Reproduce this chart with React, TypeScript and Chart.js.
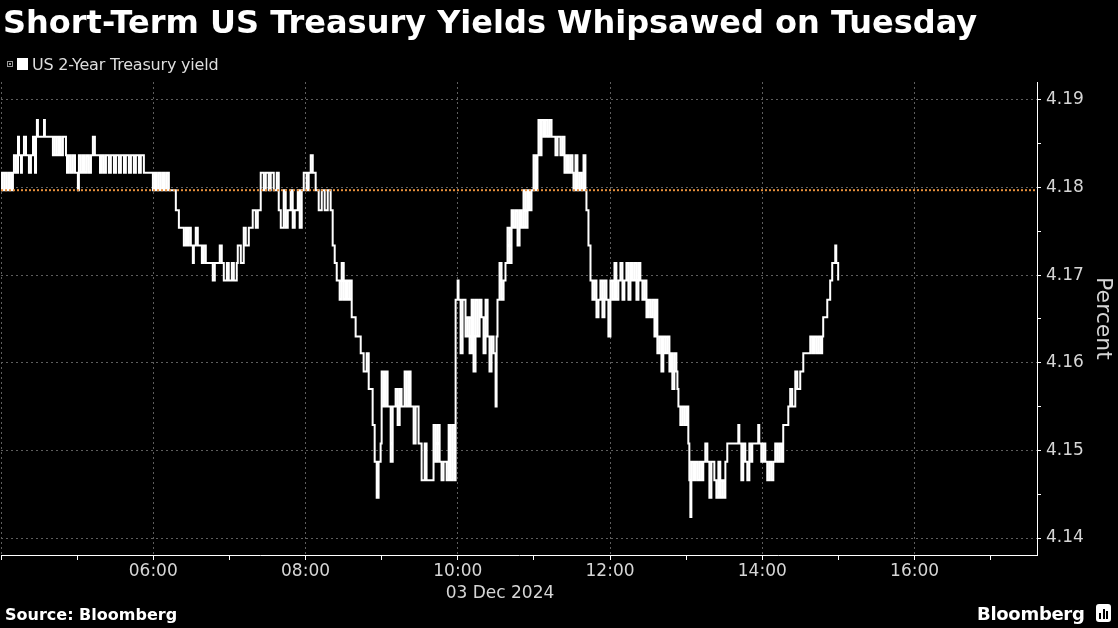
import React, { useEffect, useRef } from "react";
import { Chart, registerables } from "chart.js";

Chart.register(...registerables);

// ---------- texts ----------
const chartTitle = "Short-Term US Treasury Yields Whipsawed on Tuesday";
const seriesLabel = "US 2-Year Treasury yield";
const dateLabel = "03 Dec 2024";
const yAxisTitle = "Percent";
const sourceText = "Source: Bloomberg";
const brandText = "Bloomberg";

// ---------- axes ----------
const xStartHour = 4; // x values are minutes after 04:00
const xMinMinutes = 0;
const xMaxMinutes = 816.5; // ~17:36
const xTickMinutes = [0, 60, 120, 180, 240, 300, 360, 420, 480, 540, 600, 660, 720, 780];
const yMin = 4.13806;
const yMax = 4.19205;
const yTickValues = [4.14, 4.145, 4.15, 4.155, 4.16, 4.165, 4.17, 4.175, 4.18, 4.185, 4.19];

// previous close reference line
const previousClose = 4.1797;

// ---------- series: [minutes after 04:00, yield %] ----------
const yieldTicks: [number, number][] = [
  [0, 4.1797], [0.8, 4.1817], [2.4, 4.1797], [3.1, 4.1817], [4.7, 4.1797], [6.3, 4.1817],
  [7.9, 4.1797], [9.4, 4.1817], [10.2, 4.1837], [11.8, 4.1817], [13.4, 4.1858], [14.2, 4.1837],
  [15.7, 4.1817], [16.5, 4.1837], [18.1, 4.1858], [19.7, 4.1837], [22.0, 4.1817], [23.6, 4.1837],
  [25.2, 4.1858], [26.8, 4.1817], [27.6, 4.1858], [28.3, 4.1877], [29.1, 4.1858], [33.9, 4.1877],
  [34.6, 4.1858], [40.9, 4.1837], [42.5, 4.1858], [44.1, 4.1837], [45.7, 4.1858], [47.2, 4.1837],
  [48.8, 4.1858], [51.2, 4.1837], [52.0, 4.1817], [53.5, 4.1837], [55.1, 4.1817], [56.7, 4.1837],
  [58.3, 4.1817], [60.6, 4.1797], [61.4, 4.1837], [63.0, 4.1817], [64.6, 4.1837], [66.1, 4.1817],
  [67.7, 4.1837], [69.3, 4.1817], [70.9, 4.1837], [72.4, 4.1858], [74.0, 4.1837], [78.0, 4.1817],
  [79.5, 4.1837], [81.1, 4.1817], [82.7, 4.1837], [85.0, 4.1817], [86.6, 4.1837], [89.0, 4.1817],
  [90.6, 4.1837], [92.9, 4.1817], [94.5, 4.1837], [96.9, 4.1817], [98.4, 4.1837], [100.8, 4.1817],
  [102.4, 4.1837], [104.7, 4.1817], [106.3, 4.1837], [108.7, 4.1817], [110.2, 4.1837], [112.6, 4.1817],
  [119.7, 4.1797], [121.3, 4.1817], [122.8, 4.1797], [124.4, 4.1817], [126.0, 4.1797], [127.6, 4.1817],
  [129.1, 4.1797], [130.7, 4.1817], [132.3, 4.1797], [137.8, 4.1774], [140.2, 4.1754], [144.1, 4.1734],
  [145.7, 4.1754], [146.5, 4.1734], [148.0, 4.1754], [149.6, 4.1734], [151.2, 4.1714], [152.0, 4.1734],
  [153.5, 4.1754], [155.1, 4.1734], [158.3, 4.1714], [159.8, 4.1734], [161.4, 4.1714], [166.9, 4.1694],
  [168.5, 4.1714], [172.4, 4.1734], [174.0, 4.1714], [175.6, 4.1694], [178.0, 4.1714], [179.5, 4.1694],
  [181.9, 4.1714], [183.5, 4.1694], [185.8, 4.1714], [186.6, 4.1734], [189.0, 4.1714], [191.3, 4.1754],
  [192.9, 4.1734], [195.3, 4.1754], [198.4, 4.1774], [200.8, 4.1754], [202.4, 4.1774], [204.7, 4.1817],
  [207.1, 4.1797], [208.7, 4.1817], [211.0, 4.1797], [212.6, 4.1817], [215.0, 4.1797], [217.3, 4.1817],
  [218.9, 4.1774], [220.5, 4.1754], [222.8, 4.1797], [224.4, 4.1754], [226.0, 4.1774], [228.3, 4.1797],
  [229.9, 4.1754], [231.5, 4.1774], [233.9, 4.1797], [235.4, 4.1754], [237.0, 4.1797], [238.6, 4.1817],
  [240.9, 4.1797], [242.5, 4.1817], [244.1, 4.1837], [245.7, 4.1817], [248.0, 4.1797], [250.4, 4.1774],
  [252.8, 4.1797], [255.1, 4.1774], [257.5, 4.1797], [259.8, 4.1774], [261.4, 4.1734], [263.0, 4.1714],
  [264.6, 4.1694], [266.9, 4.1672], [268.5, 4.1714], [270.1, 4.1672], [271.7, 4.1694], [273.2, 4.1672],
  [274.8, 4.1694], [276.4, 4.1652], [279.5, 4.1630], [283.5, 4.1611], [285.8, 4.1590], [288.2, 4.1611],
  [289.8, 4.1570], [292.9, 4.1529], [294.5, 4.1487], [296.1, 4.1446], [297.6, 4.1487], [299.2, 4.1508],
  [300.0, 4.1590], [301.6, 4.1550], [303.1, 4.1590], [304.7, 4.1550], [307.1, 4.1487], [308.7, 4.1550],
  [311.0, 4.1570], [312.6, 4.1529], [314.2, 4.1570], [315.7, 4.1550], [318.1, 4.1590], [319.7, 4.1550],
  [321.3, 4.1590], [322.8, 4.1550], [325.2, 4.1508], [326.8, 4.1550], [329.1, 4.1508], [331.5, 4.1466],
  [333.9, 4.1508], [335.4, 4.1466], [340.9, 4.1529], [342.5, 4.1487], [344.1, 4.1529], [345.7, 4.1487],
  [347.2, 4.1466], [348.8, 4.1487], [351.2, 4.1466], [352.8, 4.1529], [354.3, 4.1466], [355.9, 4.1529],
  [357.5, 4.1466], [358.3, 4.1672], [359.9, 4.1694], [360.6, 4.1672], [362.2, 4.1611], [363.8, 4.1672],
  [366.1, 4.1630], [367.7, 4.1652], [369.3, 4.1611], [370.9, 4.1672], [372.4, 4.1590], [374.0, 4.1672],
  [375.6, 4.1630], [377.2, 4.1672], [378.7, 4.1652], [380.3, 4.1611], [381.9, 4.1672], [383.5, 4.1630],
  [385.0, 4.1590], [386.6, 4.1630], [388.2, 4.1611], [389.8, 4.1550], [390.6, 4.1630], [391.3, 4.1672],
  [392.9, 4.1714], [394.5, 4.1672], [396.1, 4.1694], [397.6, 4.1714], [399.2, 4.1754], [400.8, 4.1714],
  [402.4, 4.1774], [403.9, 4.1754], [405.5, 4.1774], [407.1, 4.1734], [408.7, 4.1774], [410.2, 4.1754],
  [411.8, 4.1797], [413.4, 4.1754], [415.0, 4.1797], [416.5, 4.1774], [418.1, 4.1797], [419.7, 4.1837],
  [421.3, 4.1797], [422.8, 4.1837], [423.6, 4.1877], [425.2, 4.1837], [426.0, 4.1877], [427.6, 4.1858],
  [429.1, 4.1877], [430.7, 4.1858], [432.3, 4.1877], [433.9, 4.1858], [437.0, 4.1837], [438.6, 4.1858],
  [440.9, 4.1837], [442.5, 4.1858], [444.1, 4.1817], [445.7, 4.1837], [447.2, 4.1817], [448.8, 4.1837],
  [450.4, 4.1817], [451.2, 4.1797], [452.8, 4.1837], [454.3, 4.1797], [455.9, 4.1817], [457.5, 4.1797],
  [459.1, 4.1837], [460.6, 4.1797], [461.4, 4.1774], [463.0, 4.1734], [464.6, 4.1694], [466.1, 4.1672],
  [467.7, 4.1694], [469.3, 4.1652], [470.9, 4.1672], [472.4, 4.1694], [474.0, 4.1652], [475.6, 4.1694],
  [477.2, 4.1672], [478.7, 4.1630], [480.3, 4.1694], [481.9, 4.1672], [483.5, 4.1714], [485.0, 4.1672],
  [486.6, 4.1694], [488.2, 4.1714], [489.8, 4.1672], [491.3, 4.1694], [492.9, 4.1714], [494.5, 4.1672],
  [496.1, 4.1714], [497.6, 4.1694], [499.2, 4.1714], [500.8, 4.1672], [502.4, 4.1714], [503.9, 4.1694],
  [505.5, 4.1672], [507.1, 4.1694], [508.7, 4.1652], [510.2, 4.1672], [511.8, 4.1652], [513.4, 4.1672],
  [515.0, 4.1630], [516.5, 4.1672], [517.3, 4.1611], [518.9, 4.1630], [520.5, 4.1590], [522.0, 4.1630],
  [523.6, 4.1611], [525.2, 4.1630], [526.8, 4.1590], [527.6, 4.1611], [529.1, 4.1570], [530.7, 4.1611],
  [532.3, 4.1590], [533.1, 4.1570], [533.9, 4.1550], [535.4, 4.1529], [537.0, 4.1550], [538.6, 4.1529],
  [540.2, 4.1550], [541.7, 4.1508], [542.5, 4.1466], [543.3, 4.1424], [544.1, 4.1487], [545.7, 4.1466],
  [547.2, 4.1487], [548.8, 4.1466], [550.4, 4.1487], [552.0, 4.1466], [553.5, 4.1487], [555.1, 4.1508],
  [556.7, 4.1487], [558.3, 4.1446], [559.9, 4.1487], [562.2, 4.1466], [563.8, 4.1446], [565.4, 4.1487],
  [566.9, 4.1446], [568.5, 4.1466], [570.1, 4.1446], [570.9, 4.1487], [572.4, 4.1508], [581.1, 4.1529],
  [581.9, 4.1508], [583.5, 4.1466], [585.0, 4.1508], [586.6, 4.1487], [588.2, 4.1466], [589.8, 4.1508],
  [591.4, 4.1487], [592.1, 4.1508], [596.8, 4.1529], [597.6, 4.1508], [599.2, 4.1487], [600.8, 4.1508],
  [602.4, 4.1487], [603.9, 4.1466], [605.5, 4.1487], [607.1, 4.1466], [608.7, 4.1487], [610.2, 4.1508],
  [611.8, 4.1487], [613.4, 4.1508], [615.0, 4.1487], [616.5, 4.1529], [620.5, 4.1550], [622.0, 4.1570],
  [623.6, 4.1550], [626.0, 4.1590], [627.6, 4.1570], [629.9, 4.1590], [632.3, 4.1611], [637.8, 4.1630],
  [639.4, 4.1611], [640.9, 4.1630], [642.5, 4.1611], [644.1, 4.1630], [645.7, 4.1611], [647.2, 4.1630],
  [648.0, 4.1652], [651.2, 4.1672], [653.5, 4.1694], [655.1, 4.1714], [657.5, 4.1734], [658.3, 4.1714],
  [659.8, 4.1694],
];

// ---------- styling ----------
const FONT = '"DejaVu Sans", "Noto Sans", sans-serif';
const gridGray = "#5e5e5e";
const lineWhite = "#ffffff";
const refOrange = "#e8903c";
const labelGray = "#d6d6d6";

const formatHour = (m: number) => {
  const h = xStartHour + m / 60;
  return `${String(h).padStart(2, "0")}:00`;
};
const isMajorX = (m: number) => Math.round(m) % 120 === 0;
const isMajorY = (v: number) => Math.abs(Math.round(v * 100) - v * 100) < 1e-6;

export default function App() {
  const canvasRef = useRef<HTMLCanvasElement | null>(null);

  useEffect(() => {
    const canvas = canvasRef.current;
    if (!canvas) return;
    const chart = new Chart(canvas, {
      type: "line",
      data: {
        datasets: [
          {
            label: "Previous close",
            data: [
              { x: xMinMinutes, y: previousClose },
              { x: xMaxMinutes, y: previousClose },
            ],
            borderColor: refOrange,
            borderWidth: 2,
            borderDash: [2, 2],
            pointRadius: 0,
            order: 0,
          },
          {
            label: seriesLabel,
            data: yieldTicks.map(([m, v]) => ({ x: m, y: v })),
            borderColor: lineWhite,
            borderWidth: 2,
            pointRadius: 0,
            stepped: "before",
            fill: false,
            order: 1,
          },
        ],
      },
      options: {
        animation: false,
        responsive: false,
        maintainAspectRatio: false,
        devicePixelRatio: 1,
        events: [],
        layout: { padding: { top: 82, left: 0, right: 0, bottom: 0 } },
        plugins: {
          legend: { display: false },
          tooltip: { enabled: false },
          title: { display: false },
        },
        scales: {
          x: {
            type: "linear",
            min: xMinMinutes,
            max: xMaxMinutes,
            afterBuildTicks: (axis: any) => {
              axis.ticks = xTickMinutes.map((v) => ({ value: v }));
            },
            afterFit: (axis: any) => {
              axis.height = 628 - 555;
            },
            ticks: {
              autoSkip: false,
              maxRotation: 0,
              minRotation: 0,
              padding: 1,
              color: labelGray,
              font: { family: FONT, size: 17 },
              callback: (value: any) => {
                const v = Number(value);
                return isMajorX(v) && v >= 120 ? formatHour(v) : "";
              },
            },
            grid: {
              color: (ctx: any) =>
                ctx.tick && isMajorX(ctx.tick.value) ? gridGray : "rgba(0,0,0,0)",
              lineWidth: 1,
              tickColor: "#ffffff",
              tickLength: 5,
              drawTicks: true,
            },
            border: { display: true, color: "#ffffff", width: 1, dash: [2, 3] },
          },
          y: {
            type: "linear",
            position: "right",
            min: yMin,
            max: yMax,
            afterBuildTicks: (axis: any) => {
              axis.ticks = yTickValues.map((v) => ({ value: v }));
            },
            afterFit: (axis: any) => {
              axis.width = 81;
            },
            ticks: {
              padding: 5,
              color: labelGray,
              font: { family: FONT, size: 17 },
              callback: (value: any) => {
                const v = Number(value);
                return isMajorY(v) ? v.toFixed(2) : "";
              },
            },
            grid: {
              color: (ctx: any) =>
                ctx.tick && isMajorY(ctx.tick.value) ? gridGray : "rgba(0,0,0,0)",
              lineWidth: 1,
              tickColor: "#ffffff",
              tickLength: 4,
              drawTicks: true,
            },
            border: { display: true, color: "#ffffff", width: 1, dash: [2, 3] },
            title: {
              display: true,
              text: yAxisTitle,
              color: labelGray,
              font: { family: FONT, size: 22 },
              padding: { top: 2, bottom: 0 },
            },
          },
        },
      },
    } as any);
    return () => chart.destroy();
  }, []);

  return (
    <div
      style={{
        position: "absolute",
        left: 0,
        top: 0,
        width: 1118,
        height: 628,
        background: "#000",
        overflow: "hidden",
        fontFamily: FONT,
      }}
    >
      <canvas
        ref={canvasRef}
        width={1118}
        height={628}
        style={{ position: "absolute", left: 0, top: 0, width: 1118, height: 628 }}
      />
      <div
        style={{
          position: "absolute",
          left: 3,
          top: 6,
          fontSize: 32,
          lineHeight: "32px",
          fontWeight: "bold",
          color: "#ffffff",
          whiteSpace: "nowrap",
        }}
      >
        {chartTitle}
      </div>
      {/* legend */}
      <div
        style={{
          position: "absolute",
          left: 7,
          top: 61,
          width: 4,
          height: 4,
          border: "1px solid #9a9a9a",
        }}
      >
        <div style={{ position: "absolute", left: 1, top: 1, width: 2, height: 2, background: "#9a9a9a" }} />
      </div>
      <div style={{ position: "absolute", left: 17, top: 58, width: 11, height: 12, background: "#ffffff" }} />
      <div
        style={{
          position: "absolute",
          left: 32,
          top: 56.5,
          fontSize: 16,
          lineHeight: "16px",
          letterSpacing: -0.2,
          color: "#dedede",
          whiteSpace: "nowrap",
        }}
      >
        {seriesLabel}
      </div>
      {/* date under axis */}
      <div
        style={{
          position: "absolute",
          left: 400,
          width: 200,
          top: 583.6,
          textAlign: "center",
          fontSize: 17,
          lineHeight: "17px",
          color: labelGray,
          whiteSpace: "nowrap",
        }}
      >
        {dateLabel}
      </div>
      {/* footer */}
      <div
        style={{
          position: "absolute",
          left: 5,
          top: 607,
          fontSize: 16,
          lineHeight: "16px",
          fontWeight: "bold",
          color: "#ffffff",
          whiteSpace: "nowrap",
        }}
      >
        {sourceText}
      </div>
      <div
        style={{
          position: "absolute",
          left: 977,
          top: 604.8,
          fontSize: 18,
          lineHeight: "18px",
          fontWeight: "bold",
          color: "#ffffff",
          whiteSpace: "nowrap",
          letterSpacing: -0.3,
        }}
      >
        {brandText}
      </div>
      <div
        style={{
          position: "absolute",
          left: 1096,
          top: 604,
          width: 15,
          height: 18,
          borderRadius: 3,
          background: "#ffffff",
        }}
      >
        <div style={{ position: "absolute", left: 3, top: 9, width: 2, height: 6, background: "#000" }} />
        <div style={{ position: "absolute", left: 6.5, top: 5, width: 2, height: 10, background: "#000" }} />
        <div style={{ position: "absolute", left: 10, top: 7, width: 2, height: 8, background: "#000" }} />
      </div>
    </div>
  );
}
